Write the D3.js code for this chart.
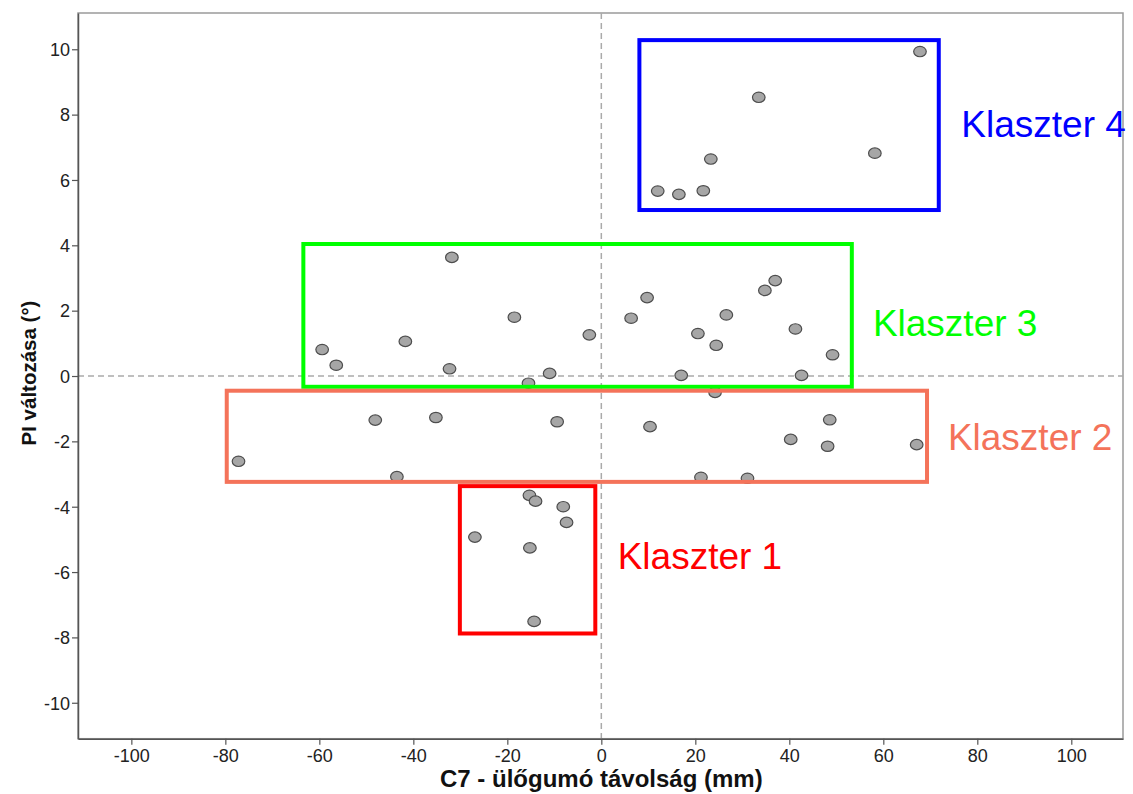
<!DOCTYPE html>
<html><head><meta charset="utf-8">
<script src="https://cdn.jsdelivr.net/npm/d3@7"></script>
<style>html,body{margin:0;padding:0;background:#fff;}svg{display:block;font-family:"Liberation Sans",Arial,sans-serif;}</style>
</head><body>
<svg id="c" width="1133" height="794"></svg>
<script>
// Data (x: C7 - ülőgumó távolság mm, y: PI változása °)
const xValues = [67.8,33.5,23.3,58.2,12.0,16.5,21.7,
  -31.8,-18.5,-2.55,-41.7,-59.4,-56.4,-32.3,-11.0,-15.5,9.74,6.34,37.0,34.8,26.6,20.55,24.45,41.3,49.2,17.0,42.6,
  -77.2,-48.1,-35.2,-9.4,-43.5,10.36,40.3,48.6,48.15,67.1,21.2,31.1,24.2,
  -15.3,-14.0,-8.1,-7.4,-26.9,-15.2,-14.3];
const yValues = [9.93,8.53,6.64,6.82,5.66,5.56,5.67,
  3.63,1.80,1.26,1.06,0.81,0.33,0.22,0.08,-0.22,2.40,1.77,2.92,2.62,1.87,1.30,0.94,1.44,0.65,0.02,0.02,
  -2.61,-1.35,-1.27,-1.40,-3.08,-1.55,-1.94,-1.34,-2.15,-2.10,-3.10,-3.13,-0.50,
  -3.65,-3.83,-4.00,-4.48,-4.93,-5.26,-7.51];
const clusterNames = ["Klaszter 4","Klaszter 3","Klaszter 2","Klaszter 1"];
const clusterColors = ["#0000ff","#00ff00","#f4735a","#ff0000"];
const clusterXMin = [8.1,-63.4,-79.7,-30.1];
const clusterXMax = [71.8,53.3,69.3,-1.28];
const clusterYMin = [5.08,-0.33,-3.24,-7.88];
const clusterYMax = [10.28,4.04,-0.45,-3.37];
const xTicks = [-100,-80,-60,-40,-20,0,20,40,60,80,100];
const yTicks = [-10,-8,-6,-4,-2,0,2,4,6,8,10];

const svg = d3.select("#c");
const L=78, R=1123, T=13, B=738.7;
const x = d3.scaleLinear().domain([-111.35,111.0]).range([L,R]);
const y = d3.scaleLinear().domain([-11.1,11.11]).range([B,T]);

// frame
svg.append("rect").attr("x",L).attr("y",T).attr("width",R-L).attr("height",B-T)
  .attr("fill","#fff").attr("stroke","#9a9a9a").attr("stroke-width",1.5);

// reference lines
svg.append("line").attr("x1",x(0)).attr("x2",x(0)).attr("y1",T).attr("y2",B)
  .attr("stroke","#aaa").attr("stroke-width",1.5).attr("stroke-dasharray","6,4");
svg.append("line").attr("x1",L).attr("x2",R).attr("y1",y(0)).attr("y2",y(0))
  .attr("stroke","#aaa").attr("stroke-width",1.5).attr("stroke-dasharray","6,4");

// axes
const fmt = d => String(d);
const xAxis = svg.append("g").attr("transform",`translate(0,${B})`)
  .call(d3.axisBottom(x).tickValues(xTicks).tickFormat(fmt).tickSize(6).tickSizeOuter(0).tickPadding(5));
const yAxis = svg.append("g").attr("transform",`translate(${L},0)`)
  .call(d3.axisLeft(y).tickValues(yTicks).tickFormat(fmt).tickSize(6).tickSizeOuter(0).tickPadding(2));
[xAxis,yAxis].forEach(a=>{
  a.select(".domain").attr("stroke","#555").attr("stroke-width",1.5);
  a.selectAll(".tick line").attr("stroke","#555").attr("stroke-width",1.2);
  a.selectAll(".tick text").attr("fill","#222").style("font-size","18px")
   .style("font-family","'Liberation Sans',Arial,sans-serif");
});
yAxis.selectAll(".tick text").attr("dy","0.35em");

// points
svg.append("g").selectAll("ellipse").data(xValues.map((v,i)=>[v,yValues[i]])).join("ellipse")
  .attr("cx",d=>x(d[0])).attr("cy",d=>y(d[1])).attr("rx",6.3).attr("ry",5.2)
  .attr("fill","#a6a6a6").attr("stroke","#4d4d4d").attr("stroke-width",1.2);

// cluster boxes
svg.append("g").selectAll("rect").data(clusterNames.map((n,i)=>i)).join("rect")
  .attr("x",i=>x(clusterXMin[i])).attr("y",i=>y(clusterYMax[i]))
  .attr("width",i=>x(clusterXMax[i])-x(clusterXMin[i]))
  .attr("height",i=>y(clusterYMin[i])-y(clusterYMax[i]))
  .attr("fill","none").attr("stroke",i=>clusterColors[i]).attr("stroke-width",4);

// cluster labels
const labelX = [961.3,872.9,947.9,617.7];
const labelY = [136.7,336,450,568.7];
svg.append("g").selectAll("text").data(clusterNames).join("text")
  .attr("x",(d,i)=>labelX[i]).attr("y",(d,i)=>labelY[i])
  .attr("fill",(d,i)=>clusterColors[i]).style("font-size","37px").text(d=>d);

// axis titles
svg.append("text").attr("x",x(0)).attr("y",787).attr("text-anchor","middle")
  .style("font-size","24px").style("font-weight","bold").attr("fill","#111")
  .text("C7 - ülőgumó távolság (mm)");
svg.append("text").attr("transform",`translate(36,${y(0)-3}) rotate(-90)`).attr("text-anchor","middle")
  .style("font-size","20.5px").style("font-weight","bold").attr("fill","#111")
  .text("PI változása (°)");
</script>
</body></html>
